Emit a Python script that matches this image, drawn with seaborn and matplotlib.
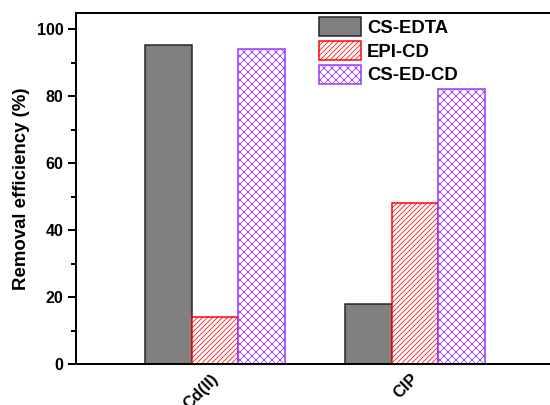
import pandas as pd
import matplotlib
matplotlib.use("Agg")
import matplotlib.pyplot as plt
import matplotlib.transforms as mtransforms
import seaborn as sns
from matplotlib.ticker import MultipleLocator

# data
pollutants = ["Cd(II)", "CIP"]
materials = ["CS-EDTA", "EPI-CD", "CS-ED-CD"]
cs_edta = [95.5, 18.0]
epi_cd = [14.0, 48.2]
cs_ed_cd = [94.2, 82.2]

df = pd.DataFrame({
    "pollutant": pollutants * 3,
    "material": [m for m in materials for _ in pollutants],
    "value": cs_edta + epi_cd + cs_ed_cd,
})

sns.set_style("ticks")
plt.rcParams["font.family"] = ["Liberation Sans", "DejaVu Sans"]
plt.rcParams["font.weight"] = "bold"
plt.rcParams["hatch.linewidth"] = 0.45
for key in ["text.color", "axes.labelcolor", "xtick.color", "ytick.color", "axes.edgecolor"]:
    plt.rcParams[key] = "black"

fig = plt.figure(figsize=(550 / 120, 405 / 120), dpi=120)
ax = fig.add_axes([0.1382, 0.1005, 0.8618, 0.8681])

sns.barplot(data=df, x="pollutant", y="value", hue="material",
            order=pollutants, hue_order=materials, width=0.7, gap=0,
            errorbar=None, legend=False, ax=ax)

styles = [
    ("#808080", "#222222", ""),
    ("white", "#ff0000", "////////"),
    ("white", "#9933ff", "xxxxx"),
]
for cont, (fc, ec, hatch) in zip(ax.containers, styles):
    for p in cont.patches:
        p.set_facecolor(fc)
        p.set_edgecolor(ec)
        p.set_hatch(hatch)
        p.set_linewidth(0.9)

ax.set_xlim(-0.695, 1.675)
ax.set_ylim(0, 105)
ax.yaxis.set_major_locator(MultipleLocator(20))
ax.yaxis.set_minor_locator(MultipleLocator(10))

for s in ["left", "bottom", "top"]:
    ax.spines[s].set_linewidth(1.2)
ax.spines["right"].set_visible(False)

ax.tick_params(axis="y", which="major", length=4.6, width=1.2, pad=3, labelsize=9.6)
ax.tick_params(axis="y", which="minor", length=3, width=1.2)
ax.tick_params(axis="x", length=0, pad=4, labelsize=10)
shift = mtransforms.ScaledTranslation(6 / 120, 0, fig.dpi_scale_trans)
for lab in ax.get_xticklabels():
    lab.set_rotation(45)
    lab.set_ha("right")
    lab.set_fontweight("bold")
    lab.set_transform(lab.get_transform() + shift)
for lab in ax.get_yticklabels():
    lab.set_fontweight("bold")

ax.set_xlabel("")
ax.set_ylabel("Removal efficiency (%)", fontsize=11.2, fontweight="bold", labelpad=4)

ax.legend(handles=[c.patches[0] for c in ax.containers], labels=materials,
          loc="upper left", bbox_to_anchor=(319 / 550, 1 - 17 / 405),
          bbox_transform=fig.transFigure, frameon=False, borderpad=0,
          handlelength=2.27, handleheight=1.2,
          handletextpad=0.32, labelspacing=0.22, borderaxespad=0,
          prop={"weight": "bold", "size": 11.1})

fig.savefig("out.png", dpi=120)
